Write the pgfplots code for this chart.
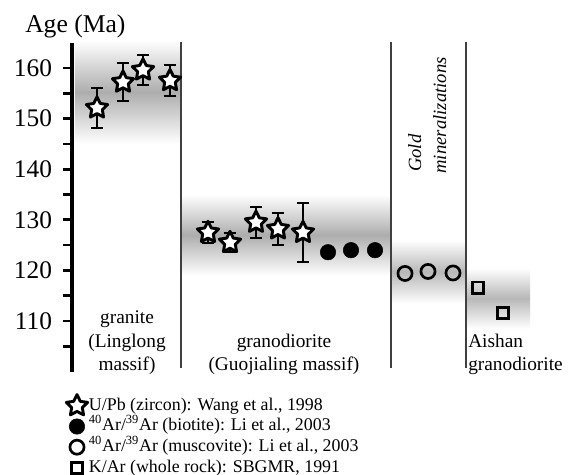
\documentclass[border=0pt]{standalone}
\usepackage{fontspec}
\setmainfont{Liberation Serif}
\usepackage{pgfplots}
\pgfplotsset{compat=1.18}
\usetikzlibrary{plotmarks}

% five-pointed star outline mark
\pgfdeclareplotmark{fivestar}{%
  \pgfpathmoveto{\pgfpointpolar{90}{\pgfplotmarksize}}%
  \pgfpathlineto{\pgfpointpolar{126}{0.5\pgfplotmarksize}}%
  \pgfpathlineto{\pgfpointpolar{162}{\pgfplotmarksize}}%
  \pgfpathlineto{\pgfpointpolar{198}{0.5\pgfplotmarksize}}%
  \pgfpathlineto{\pgfpointpolar{234}{\pgfplotmarksize}}%
  \pgfpathlineto{\pgfpointpolar{270}{0.5\pgfplotmarksize}}%
  \pgfpathlineto{\pgfpointpolar{306}{\pgfplotmarksize}}%
  \pgfpathlineto{\pgfpointpolar{342}{0.5\pgfplotmarksize}}%
  \pgfpathlineto{\pgfpointpolar{18}{\pgfplotmarksize}}%
  \pgfpathlineto{\pgfpointpolar{54}{0.5\pgfplotmarksize}}%
  \pgfpathclose
  \pgfusepathqfillstroke
}

\begin{document}
\begin{tikzpicture}
\begin{axis}[
  scale only axis, width=372pt, height=246.7pt,
  xmin=72, xmax=568, ymin=100, ymax=165,
  clip=false,
  axis y line*=left, axis x line=none,
  y axis line style={line width=2.4pt, black},
  ytick={110,120,...,160}, minor ytick={105,115,...,155},
  tick align=outside,
  major tick length=6.8pt, minor tick length=6.8pt,
  every tick/.style={line width=2pt, black},
  /pgf/number format/assume math mode=true,
  yticklabel style={font=\fontsize{19}{19}\selectfont, inner sep=0pt, xshift=-8pt},
  legend cell align=left,
  legend image code/.code={\draw[#1] plot coordinates {(0pt,0pt)};},
  legend style={draw=none, fill=none, at={(-0.02,-0.061)}, anchor=north west,
    font=\fontsize{13.4}{15}\selectfont, row sep=0pt,
    nodes={inner sep=1pt, text height=10pt, text depth=3.5pt}},
]
% grey age bands
\addplot[draw=none, mark=none, forget plot, top color=white, bottom color=white, middle color=black!32]
  coordinates {(75,145) (181,145) (181,165.5) (75,165.5)} -- cycle;
\addplot[draw=none, mark=none, forget plot, top color=white, bottom color=white, middle color=black!32]
  coordinates {(181,119) (391,119) (391,135) (181,135)} -- cycle;
\addplot[draw=none, mark=none, forget plot, top color=white, bottom color=white, middle color=black!28]
  coordinates {(391,113.5) (466,113.5) (466,126) (391,126)} -- cycle;
\addplot[draw=none, mark=none, forget plot, top color=white, bottom color=white, middle color=black!28]
  coordinates {(466,108.5) (530,108.5) (530,120.5) (466,120.5)} -- cycle;
% separators
\addplot[black!75, line width=0.8pt, mark=none, forget plot] coordinates {(181,100.8) (181,165.2)};
\addplot[black!75, line width=0.8pt, mark=none, forget plot] coordinates {(391,100.8) (391,165.2)};
\addplot[black!75, line width=0.8pt, mark=none, forget plot] coordinates {(466,100.8) (466,165.2)};

% U/Pb zircon
\addplot[only marks, mark=fivestar, mark size=8.4pt,
  mark options={fill=white, draw=black, line width=2.2pt, line join=round},
  error bars/.cd, y dir=both, y explicit,
  error bar style={line width=1.5pt, black},
  error mark options={line width=1.5pt, black, mark size=4.8pt, rotate=90}]
  coordinates {
  (97,152.1) +- (0,4.0)
  (123,157.2) +- (0,3.8)
  (143,159.6) +- (0,3.0)
  (170,157.5) +- (0,3.0)
  (208,127.5) +- (0,2.0)
  (230,125.5) +- (0,1.9)
  (256,129.5) +- (0,3.1)
  (278,128.2) +- (0,3.2)
  (303,127.5) +- (0,5.9)
  };
\addlegendentry{U/Pb (zircon): Wang et al., 1998}
% Ar/Ar biotite
\addplot[only marks, mark=*, mark size=5.8pt, mark options={fill=black, draw=black}]
  coordinates {(328,123.6) (351,124.0) (375,124.0)};
\addlegendentry{\textsuperscript{40}Ar/\textsuperscript{39}Ar (biotite): Li et al., 2003}
% Ar/Ar muscovite
\addplot[only marks, mark=o, mark size=5.3pt, mark options={draw=black, fill=white, line width=2pt}]
  coordinates {(405,119.4) (428,119.8) (453,119.5)};
\addlegendentry{\textsuperscript{40}Ar/\textsuperscript{39}Ar (muscovite): Li et al., 2003}
% K/Ar whole rock
\addplot[only marks, mark=square, mark size=4.2pt, mark options={draw=black, fill=white, line width=2pt}]
  coordinates {(478,116.6) (503,111.6)};
\addlegendentry{K/Ar (whole rock): SBGMR, 1991}

% labels
\node[anchor=base west, inner sep=0pt, font=\fontsize{19.2}{19.2}\selectfont] at (axis cs:25,167.1) {Age (Ma)};
\node[anchor=base, align=center, font=\fontsize{14.5}{17.3}\selectfont] at (axis cs:127,100.3)
  {granite\\(Linglong\\massif)};
\node[anchor=base, align=center, font=\fontsize{14.5}{17.3}\selectfont] at (axis cs:284,100.3)
  {granodiorite\\(Guojialing massif)};
\node[anchor=base west, align=left, font=\fontsize{14.5}{17.3}\selectfont, inner sep=0pt] at (axis cs:468,100.3)
  {Aishan\\granodiorite};
\node[rotate=90, anchor=base west, inner sep=0pt, font=\fontsize{14}{14}\selectfont\itshape] at (axis cs:421,139.4) {Gold};
\node[rotate=90, anchor=base west, inner sep=0pt, font=\fontsize{14}{14}\selectfont\itshape] at (axis cs:446,139.1) {mineralizations};

\coordinate (bbA) at (axis cs:0,173.44);
\coordinate (bbB) at (axis cs:568,79.76);
\end{axis}
\pgfresetboundingbox
\path[use as bounding box] (bbA) rectangle (bbB);
\end{tikzpicture}
\end{document}
